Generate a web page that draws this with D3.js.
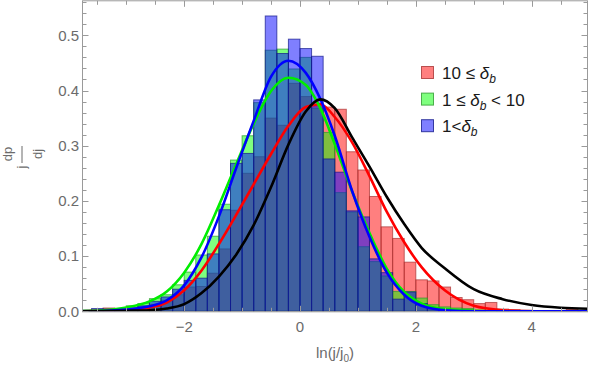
<!DOCTYPE html>
<html>
<head>
<meta charset="utf-8">
<script src="https://cdn.jsdelivr.net/npm/d3@7.9.0/dist/d3.min.js"></script>
<style>
  body { margin: 0; background: #fff; }
  svg { display: block; font-family: "Liberation Sans", Arial, sans-serif; }
</style>
</head>
<body>
<svg id="chart" width="590" height="367"></svg>
<script>
// histogram bins (left edges, width 0.2)
const binWidth = 0.2;
const binStart = [-3.8, -3.6, -3.4, -3.2, -3.0, -2.8, -2.6, -2.4, -2.2, -2.0, -1.8, -1.6, -1.4, -1.2, -1.0,
  -0.8, -0.6, -0.4, -0.2, 0.0, 0.2, 0.4, 0.6, 0.8, 1.0, 1.2, 1.4, 1.6, 1.8, 2.0, 2.2, 2.4, 2.6, 2.8,
  3.0, 3.2, 3.4, 3.6, 3.8, 4.0, 4.2, 4.4, 4.6, 4.8];

// 10 <= delta_b
const redBins = [0, 0.002, 0.006, 0.002, 0.004, 0.008, 0.012, 0.020, 0.030, 0.044, 0.045, 0.069, 0.113, 0.183, 0.250,
  0.280, 0.350, 0.337, 0.413, 0.389, 0.372, 0.370, 0.366, 0.289, 0.256, 0.208, 0.153, 0.132, 0.089, 0.057, 0.055,
  0.044, 0.025, 0.021, 0.014, 0.016, 0.004, 0.003, 0.002, 0, 0.001, 0.001, 0.004, 0.001];
// 1 <= delta_b < 10
const greenBins = [0.002, 0, 0, 0.002, 0.010, 0.014, 0.023, 0.030, 0.048, 0.071, 0.102, 0.136, 0.194, 0.274, 0.318,
  0.378, 0.473, 0.475, 0.439, 0.460, 0.368, 0.324, 0.215, 0.180, 0.117, 0.090, 0.064, 0.036, 0.036, 0.024, 0.012,
  0.008, 0.006, 0.005, 0.002, 0.001, 0, 0, 0, 0, 0, 0, 0, 0];
// 1 < delta_b
const blueBins = [0.002, 0.005, 0.004, 0.004, 0.006, 0.010, 0.018, 0.026, 0.040, 0.056, 0.060, 0.104, 0.184, 0.268, 0.286,
  0.383, 0.535, 0.467, 0.493, 0.476, 0.462, 0.276, 0.252, 0.182, 0.171, 0.095, 0.070, 0.022, 0.035, 0.014, 0.006,
  0.004, 0.003, 0.002, 0.001, 0, 0.001, 0, 0.001, 0, 0, 0, 0, 0.001];

const curveX = [-3.76, -3.4, -3.0, -2.6, -2.3, -2.0, -1.7, -1.4, -1.1, -0.8, -0.5, -0.2, 0.1, 0.35, 0.6, 0.9,
  1.2, 1.5, 1.8, 2.1, 2.5, 3.0, 3.5, 4.0, 4.5, 4.97];
const redFit = [0.0002, 0.001, 0.003, 0.007, 0.016, 0.038, 0.074, 0.122, 0.175, 0.230, 0.285, 0.336, 0.370, 0.375,
  0.352, 0.306, 0.245, 0.180, 0.125, 0.080, 0.038, 0.010, 0.002, 0, 0, 0];
const greenFit = [0.0005, 0.002, 0.007, 0.018, 0.036, 0.070, 0.122, 0.192, 0.267, 0.340, 0.399, 0.423, 0.410, 0.368,
  0.303, 0.217, 0.142, 0.077, 0.035, 0.014, 0.004, 0.001, 0, 0, 0, 0];
const blueFit = [0, 0.0005, 0.003, 0.009, 0.020, 0.047, 0.098, 0.172, 0.260, 0.345, 0.425, 0.454, 0.432, 0.385,
  0.318, 0.218, 0.135, 0.070, 0.030, 0.010, 0.002, 0, 0, 0, 0, 0];
const blackFit = [0, 0.0003, 0.001, 0.002, 0.005, 0.013, 0.033, 0.063, 0.103, 0.156, 0.225, 0.302, 0.362, 0.384,
  0.368, 0.315, 0.262, 0.207, 0.158, 0.115, 0.078, 0.040, 0.022, 0.0115, 0.0065, 0.0045];

const xTicks = [-2, 0, 2, 4];
const yTicks = [0, 0.1, 0.2, 0.3, 0.4, 0.5];
const legendPre = ['10 ≤ ', '1 ≤ ', '1<'];
const legendPost = ['', ' < 10', ''];

const svg = d3.select('#chart');
const x = d3.scaleLinear().domain([-3.756, 4.965]).range([82.5, 587.5]);
const y = d3.scaleLinear().domain([0, 0.5625]).range([311.3, 0.8]);

svg.append('clipPath').attr('id', 'plot')
  .append('rect').attr('x', 82.5).attr('y', 0.8).attr('width', 505).attr('height', 310.5);

const plot = svg.append('g').attr('clip-path', 'url(#plot)');

const series = [
  { bins: redBins, fill: '#ff0000', edge: '#a83232' },
  { bins: greenBins, fill: '#00ff00', edge: '#2e9a2e' },
  { bins: blueBins, fill: '#0000ff', edge: '#12188a' },
];

series.forEach((s) => {
  const data = binStart.map((x0, i) => ({ x0, v: s.bins[i] })).filter((d) => d.v > 0);
  plot.append('g')
    .selectAll('rect')
    .data(data)
    .join('rect')
    .attr('x', (d) => x(d.x0))
    .attr('width', (d) => x(d.x0 + binWidth) - x(d.x0))
    .attr('y', (d) => y(d.v))
    .attr('height', (d) => y(0) - y(d.v))
    .attr('fill', s.fill)
    .attr('fill-opacity', 0.5)
    .attr('stroke', s.edge)
    .attr('stroke-opacity', 0.7)
    .attr('stroke-width', 1);
});

const line = d3.line()
  .x((d) => x(d[0]))
  .y((d) => y(d[1]))
  .curve(d3.curveMonotoneX);

[[redFit, '#ff0000'], [greenFit, '#00ee00'], [blueFit, '#0000ff'], [blackFit, '#000000']].forEach(([vals, c]) => {
  plot.append('path')
    .attr('d', line(curveX.map((xv, i) => [xv, vals[i]])))
    .attr('fill', 'none')
    .attr('stroke', c)
    .attr('stroke-width', 2.6);
});

// frame and ticks
const frameColor = '#9a9a9a';
const textColor = '#6b6b6b';
svg.append('rect')
  .attr('x', 82.5).attr('y', 0.8).attr('width', 505).attr('height', 311)
  .attr('fill', 'none').attr('stroke', frameColor);

const xMinor = d3.range(-3.5, 5, 0.5).filter((v) => v % 2 !== 0);
const yMinor = d3.range(0.02, 0.57, 0.02).filter((v) => Math.abs(v * 10 - Math.round(v * 10)) > 1e-6);

const ticks = svg.append('g').attr('stroke', frameColor).attr('stroke-width', 1);
function tickX(v, len) {
  const px = Math.round(x(v)) + 0.5;
  ticks.append('line').attr('x1', px).attr('x2', px).attr('y1', 311.8).attr('y2', 311.8 - len);
  ticks.append('line').attr('x1', px).attr('x2', px).attr('y1', 0.8).attr('y2', 0.8 + len);
}
function tickY(v, len) {
  const py = Math.round(y(v)) + 0.5;
  ticks.append('line').attr('x1', 82.5).attr('x2', 82.5 + len).attr('y1', py).attr('y2', py);
  ticks.append('line').attr('x1', 587.5).attr('x2', 587.5 - len).attr('y1', py).attr('y2', py);
}
xTicks.forEach((v) => tickX(v, 6));
xMinor.forEach((v) => tickX(v, 4));
yTicks.forEach((v) => tickY(v, 6));
yMinor.forEach((v) => tickY(v, 4));

svg.append('g').selectAll('text').data(xTicks).join('text')
  .attr('x', (d) => x(d)).attr('y', 331.5)
  .attr('text-anchor', 'middle')
  .attr('font-size', 15).attr('fill', textColor)
  .text((d) => d3.format('d')(d));

svg.append('g').selectAll('text').data(yTicks).join('text')
  .attr('x', 79).attr('y', (d) => y(d) + 5.3)
  .attr('text-anchor', 'end')
  .attr('font-size', 15).attr('fill', textColor)
  .text((d) => d3.format('.1f')(d));

// axis labels
const xl = svg.append('text').attr('x', 335).attr('y', 358)
  .attr('text-anchor', 'middle').attr('font-size', 15).attr('fill', textColor);
xl.append('tspan').text('ln(j/j');
xl.append('tspan').attr('font-size', 10).attr('dy', 4).text('0');
xl.append('tspan').attr('dy', -4).text(')');

const yl = svg.append('g').attr('transform', 'translate(22,157) rotate(-90)')
  .attr('fill', textColor).attr('font-size', 13);
yl.append('text').attr('x', -10).attr('y', 4).attr('text-anchor', 'middle').text('j');
yl.append('line').attr('x1', -6).attr('x2', 11).attr('y1', 0).attr('y2', 0)
  .attr('stroke', textColor).attr('stroke-width', 1);
yl.append('text').attr('x', 3).attr('y', -10.5).attr('text-anchor', 'middle').text('dp');
yl.append('text').attr('x', 3).attr('y', 19.5).attr('text-anchor', 'middle').text('dj');

// legend
const legend = svg.append('g').style('white-space', 'pre');
series.forEach((s, i) => {
  const top = 66 + i * 26.6;
  legend.append('rect')
    .attr('x', 421.5).attr('y', top + 0.5).attr('width', 12).attr('height', 12)
    .attr('fill', s.fill).attr('fill-opacity', 0.5)
    .attr('stroke', s.edge).attr('stroke-opacity', 0.8);
  const t = legend.append('text').attr('x', 442).attr('y', top + 13)
    .attr('font-size', 17).attr('fill', '#1a1a1a');
  t.append('tspan').text(legendPre[i]);
  t.append('tspan').attr('font-style', 'italic').text('δ');
  t.append('tspan').attr('font-style', 'italic').attr('font-size', 12).attr('dy', 4).text('b');
  if (legendPost[i]) t.append('tspan').attr('dy', -4).text(legendPost[i]);
});
</script>
</body>
</html>
